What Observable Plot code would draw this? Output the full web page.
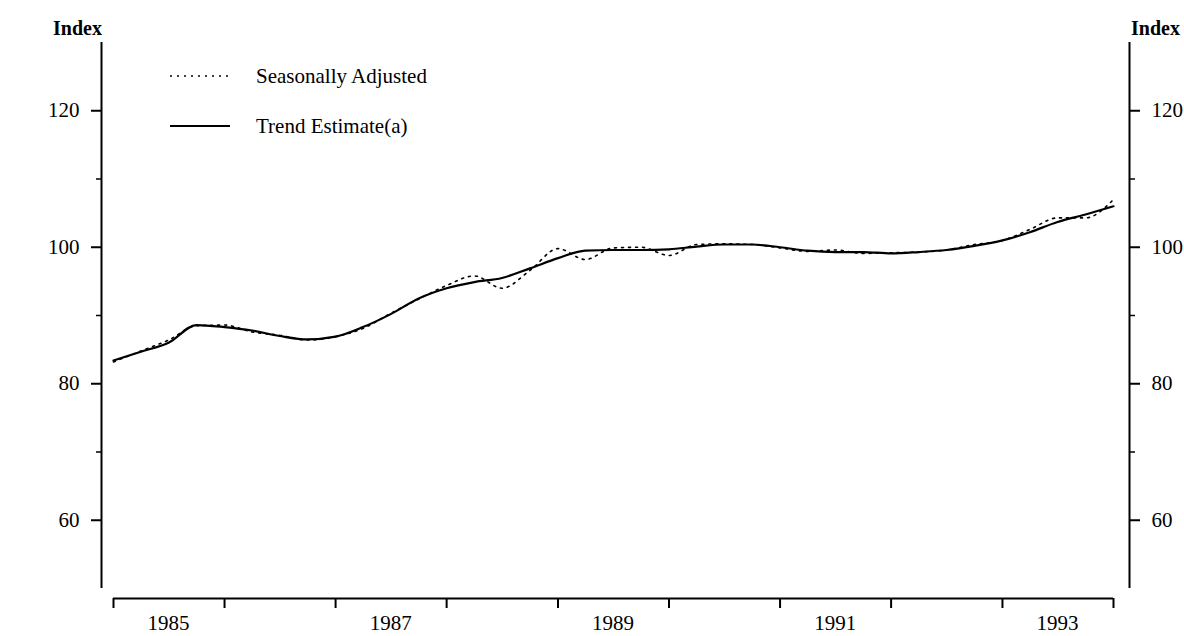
<!DOCTYPE html>
<html>
<head>
<meta charset="utf-8">
<script src="https://cdn.jsdelivr.net/npm/d3@7"></script>
<script src="https://cdn.jsdelivr.net/npm/@observablehq/plot@0.6"></script>
<style>
  html, body { margin: 0; padding: 0; background: #fff; }
  #wrap { position: relative; width: 1184px; height: 636px; font-family: "Liberation Serif", serif; }
  #legend { position: absolute; left: 170px; top: 62px; font-size: 21px; color: #000; }
  #legend .row { display: flex; align-items: center; height: 28px; margin-bottom: 22px; }
  #legend svg { width: 60px; height: 10px; margin-right: 26px; }
</style>
</head>
<body>
<div id="wrap">
  <div id="legend"></div>
</div>
<script>
// Quarter dates (start of quarter), 1985 Q1 .. 1994 Q1
const quarters = [
  "1985-01-01","1985-04-01","1985-07-01","1985-10-01",
  "1986-01-01","1986-04-01","1986-07-01","1986-10-01",
  "1987-01-01","1987-04-01","1987-07-01","1987-10-01",
  "1988-01-01","1988-04-01","1988-07-01","1988-10-01",
  "1989-01-01","1989-04-01","1989-07-01","1989-10-01",
  "1990-01-01","1990-04-01","1990-07-01","1990-10-01",
  "1991-01-01","1991-04-01","1991-07-01","1991-10-01",
  "1992-01-01","1992-04-01","1992-07-01","1992-10-01",
  "1993-01-01","1993-04-01","1993-07-01","1993-10-01",
  "1994-01-01"
];
const seasonallyAdjusted = [
  83.2, 84.8, 86.4, 88.5,
  88.6, 87.6, 87.1, 86.4,
  86.9, 88.1, 90.3, 92.4,
  94.4, 95.8, 94.0, 96.6,
  99.8, 98.2, 99.9, 100.0,
  98.8, 100.4, 100.5, 100.4,
  99.9, 99.4, 99.6, 99.1,
  99.2, 99.3, 99.6, 100.4,
  101.0, 102.6, 104.3, 104.3,
  107.0
];
const trendEstimate = [
  83.4, 84.7, 86.0, 88.6,
  88.3, 87.8, 87.0, 86.5,
  86.9, 88.3, 90.2, 92.5,
  94.0, 94.9, 95.5, 96.9,
  98.4, 99.5, 99.6, 99.6,
  99.7, 100.1, 100.4, 100.4,
  100.0, 99.5, 99.3, 99.3,
  99.1, 99.3, 99.6, 100.2,
  101.0, 102.2, 103.7, 104.8,
  106.0
];
const yearTicks = ["1985","1986","1987","1988","1989","1990","1991","1992","1993","1994"];
const yearLabels = ["1985","1987","1989","1991","1993"];
const majorY = [60, 80, 100, 120];
const minorY = [70, 90, 110];
const yDomain = [50, 130];
const seriesNames = ["Seasonally Adjusted", "Trend Estimate(a)"];

const parse = s => new Date(s + (s.length === 4 ? "-01-01" : "") + "T00:00:00Z");
const sa = quarters.map((q, i) => ({date: parse(q), value: seasonallyAdjusted[i]}));
const tr = quarters.map((q, i) => ({date: parse(q), value: trendEstimate[i]}));
const xStart = parse(quarters[0]);
const xEnd = parse(quarters[quarters.length - 1]);
const tickDates = yearTicks.map(parse);
const labelDates = yearLabels.map(y => new Date(Date.UTC(+y, 6, 1)));

const font = "Liberation Serif";

const chart = Plot.plot({
  width: 1184,
  height: 636,
  marginLeft: 101,
  marginRight: 55,
  marginTop: 42,
  marginBottom: 38,
  style: {fontFamily: font, fontSize: "21px", color: "#000", background: "#fff"},
  x: {type: "utc", domain: [xStart, xEnd], range: [113, 1113], label: null},
  y: {domain: yDomain, range: [588, 42], label: null},
  marks: [
    // axis lines
    Plot.ruleX([xStart], {y1: yDomain[0], y2: yDomain[1], dx: -12, stroke: "#000", strokeWidth: 2}),
    Plot.ruleX([xEnd], {y1: yDomain[0], y2: yDomain[1], dx: 16, stroke: "#000", strokeWidth: 2}),
    Plot.ruleY([yDomain[0]], {x1: xStart, x2: xEnd, dy: 10, stroke: "#000", strokeWidth: 2}),
    // y axes
    Plot.axisY({anchor: "left", ticks: majorY, tickSize: 10, tickPadding: 12, tickFormat: d => d, label: null, strokeWidth: 2, fontSize: 21}),
    Plot.axisY({anchor: "left", ticks: minorY, tickSize: 5, tickFormat: () => "", label: null, strokeWidth: 1.5}),
    Plot.axisY({anchor: "right", ticks: majorY, tickSize: 10, tickPadding: 12, tickFormat: d => d, label: null, strokeWidth: 2, fontSize: 21}),
    Plot.axisY({anchor: "right", ticks: minorY, tickSize: 5, tickFormat: () => "", label: null, strokeWidth: 1.5}),
    // x axis
    Plot.axisX({anchor: "bottom", ticks: tickDates, tickSize: 10, tickFormat: () => "", label: null, strokeWidth: 2}),
    Plot.axisX({anchor: "bottom", ticks: labelDates, tickSize: 0, tickPadding: 17, tickFormat: d => String(d.getUTCFullYear()), label: null, fontSize: 21}),
    // axis titles
    Plot.text(["Index"], {frameAnchor: "top-left", dx: -24, dy: -22, textAnchor: "middle", fontSize: 20, fontWeight: "bold"}),
    Plot.text(["Index"], {frameAnchor: "top-right", dx: 26, dy: -22, textAnchor: "middle", fontSize: 20, fontWeight: "bold"}),
    // series
    Plot.line(sa, {x: "date", y: "value", stroke: "#000", strokeWidth: 1.6, strokeDasharray: "2,5", curve: "monotone-x"}),
    Plot.line(tr, {x: "date", y: "value", stroke: "#000", strokeWidth: 2.2, curve: "monotone-x"})
  ]
});
document.getElementById("wrap").prepend(chart);

// legend
const legend = document.getElementById("legend");
seriesNames.forEach((name, i) => {
  const row = document.createElement("div");
  row.className = "row";
  const dash = i === 0 ? 'stroke-dasharray="2,5" stroke-width="1.6"' : 'stroke-width="2.2"';
  row.innerHTML = `<svg viewBox="0 0 60 10"><line x1="0" x2="60" y1="5" y2="5" stroke="#000" ${dash}/></svg><span>${name}</span>`;
  legend.appendChild(row);
});
</script>
</body>
</html>
